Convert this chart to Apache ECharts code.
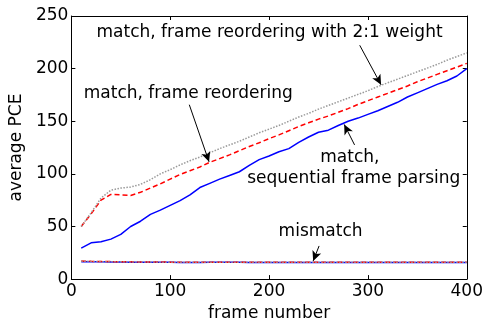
<!DOCTYPE html>
<html>
<head>
<meta charset="utf-8">
<script src="https://cdn.jsdelivr.net/npm/echarts@6/dist/echarts.min.js"></script>
<style>html,body{margin:0;padding:0;background:#fff;}#c{width:486px;height:327px;}</style>
</head>
<body>
<div id="c"></div>
<script>
var frames = [10,20,30,40,50,60,70,80,90,100,110,120,130,140,150,160,170,180,190,200,210,220,230,240,250,260,270,280,290,300,310,320,330,340,350,360,370,380,390,400];
var matchSequential = [29.5,34.5,35.5,38,42.5,50,55,61.5,65.5,70,74.5,80,87,91,95,98.5,102,108,113.5,117,121,124,130,135,139.5,141.5,146,150,153,156.5,160,164,168,173,177,181,185,188.5,193,200];
var matchReorder = [50,62,75,80.5,80,79.5,82.5,86.5,90.5,95,99.5,103,106.5,111,114.5,118,122,126,129.5,133.5,137,141,145,148.5,152,155,158.5,162,166,169.5,173,176.5,180,183.5,187.5,191,194.5,198,201.5,205];
var matchReorderWeight = [50,63,77,84.5,86.5,87.5,90,94.5,100,104,108.5,112.5,116,120,124,127.5,131,135,139,142.5,146,150,154,157.5,161.5,165,168.5,172,175.5,179,183,186.5,190,193.5,197,200.5,204,208,211.5,215];
var mismatchSequential = [16.6,16.5,16.4,16.3,16.2,16.1,16.0,16.0,15.9,15.9,15.8,15.8,15.8,15.9,15.9,15.9,15.9,15.8,15.8,15.8,15.8,15.8,15.8,15.7,15.7,15.7,15.7,15.7,15.7,15.7,15.7,15.7,15.7,15.7,15.7,15.7,15.7,15.7,15.7,15.7];
var mismatchReorder = [17.2,16.9,16.7,16.6,16.5,16.4,16.3,16.2,16.2,16.1,16.1,16.1,16.1,16.1,16.1,16.1,16.1,16.0,16.0,16.0,16.0,16.0,16.0,16.0,16.0,16.0,16.0,16.0,16.0,16.0,16.0,16.0,16.0,16.0,16.0,16.0,16.0,16.0,16.0,16.0];
var mismatchReorderWeight = [17.0,16.8,16.6,16.5,16.4,16.3,16.2,16.2,16.1,16.1,16.1,16.0,16.0,16.0,16.0,16.0,16.0,16.0,16.0,16.0,16.0,16.0,16.0,16.0,16.0,16.0,16.0,16.0,16.0,16.0,16.0,16.0,16.0,16.0,16.0,16.0,16.0,16.0,16.0,16.0];
var xTicks = [0,100,200,300,400];
var yTicks = [0,50,100,150,200,250];

var annotations = [
  {text: 'match, frame reordering with 2:1 weight', at: [200.5, 234.3]},
  {text: 'match, frame reordering', at: [118.3, 175.9]},
  {text: 'match,', at: [281.7, 115.7]},
  {text: 'sequential frame parsing', at: [285.7, 95.4]},
  {text: 'mismatch', at: [252.1, 45.4]}
];
var arrows = [
  [[291.7, 222.2], [313.3, 184.6]],
  [[119.3, 165.7], [139.3, 111.4]],
  [[286.5, 127.5], [276.0, 147.0]],
  [[250.6, 31.5], [244.6, 17.2]]
];

var FONT = 'DejaVu Sans';
function pairs(ys){ return frames.map(function(x,i){ return [x, ys[i]]; }); }

var chart = echarts.init(document.getElementById('c'), null, {renderer:'canvas'});
function axisCommon(){
  return {
    axisLine: {show: true, onZero: false, lineStyle: {color: '#000', width: 1}},
    axisTick: {show: true, inside: true, length: 4, lineStyle: {color: '#000', width: 1}},
    splitLine: {show: false}
  };
}
function line(name, ys, color, type, width, z){
  return {
    name: name, type: 'line', data: pairs(ys), showSymbol: false, symbol: 'none',
    lineStyle: {color: color, width: width, type: type}, itemStyle: {color: color},
    z: z, animation: false, xAxisIndex: 0, yAxisIndex: 0
  };
}
var series = [
  line('mismatch sequential', mismatchSequential, '#0000ff', 'solid', 1.5, 2),
  line('mismatch reorder', mismatchReorder, '#ff0000', [5,3], 1.5, 3),
  line('mismatch reorder weight', mismatchReorderWeight, '#9a9a9a', [1.5,1.5], 1.5, 4),
  line('match sequential', matchSequential, '#0000ff', 'solid', 1.5, 2),
  line('match reorder', matchReorder, '#ff0000', [5,3], 1.5, 3),
  line('match reorder weight', matchReorderWeight, '#9a9a9a', [1.5,1.5], 1.5, 4)
];
series[3].markLine = {
  silent: true, animation: false, symbol: ['none', 'arrow'], symbolSize: [7, 10],
  label: {show: false},
  lineStyle: {color: '#000', width: 1, type: 'solid'},
  data: arrows.map(function(a){ return [{coord: a[0]}, {coord: a[1]}]; })
};
series[3].markPoint = {
  silent: true, animation: false, symbol: 'circle', symbolSize: 0,
  label: {show: true, position: 'inside', color: '#000', fontSize: 17, fontFamily: FONT, formatter: function(p){ return p.name; }},
  data: annotations.map(function(a){ return {name: a.text, coord: a.at}; })
};

chart.setOption({
  animation: false,
  backgroundColor: '#fff',
  grid: {left: 68, right: 19, top: 16, bottom: 41, containLabel: false},
  xAxis: [
    Object.assign({type: 'value', position: 'bottom', min: 0, max: 400, interval: 100,
      name: 'frame number', nameLocation: 'middle', nameGap: 20,
      nameTextStyle: {color: '#000', fontSize: 17, fontFamily: FONT},
      axisLabel: {color: '#000', fontSize: 17, fontFamily: FONT, margin: 4,
        customValues: xTicks}
    }, axisCommon()),
    Object.assign({type: 'value', position: 'top', min: 0, max: 400, interval: 100,
      axisLabel: {show: false}}, axisCommon())
  ],
  yAxis: [
    Object.assign({type: 'value', position: 'left', min: 0, max: 250, interval: 50,
      name: 'average PCE', nameLocation: 'middle', nameGap: 38, nameRotate: 90,
      nameTextStyle: {color: '#000', fontSize: 17, fontFamily: FONT},
      axisLabel: {color: '#000', fontSize: 17, fontFamily: FONT, margin: 3,
        customValues: yTicks}
    }, axisCommon()),
    Object.assign({type: 'value', position: 'right', min: 0, max: 250, interval: 50,
      axisLabel: {show: false}}, axisCommon())
  ],
  series: series
});
</script>
</body>
</html>
